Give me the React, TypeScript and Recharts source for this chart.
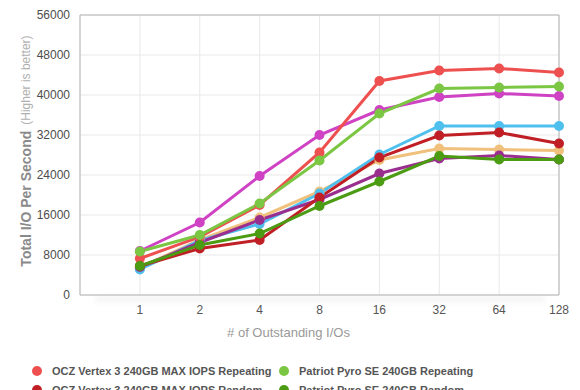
import React from 'react';
import { LineChart, Line, XAxis, YAxis, CartesianGrid, ReferenceArea, Label } from 'recharts';

const categories = ['1', '2', '4', '8', '16', '32', '64', '128'];
const yTicks = [0, 8000, 16000, 24000, 32000, 40000, 48000, 56000];

const oczRepeating = [7300, 11600, 18000, 28500, 42800, 44900, 45300, 44500];
const oczRandom = [5800, 9300, 11000, 19500, 27500, 31900, 32500, 30300];
const pyroRepeating = [8700, 12000, 18300, 26900, 36300, 41300, 41500, 41700];
const pyroRandom = [5800, 10000, 12300, 17800, 22700, 27800, 27100, 27100];
const forceRepeating = [8800, 14500, 23800, 32000, 37000, 39600, 40300, 39800];
const forceRandom = [5600, 10500, 15000, 19100, 24300, 27300, 27900, 27100];
const intelRepeating = [5100, 10900, 14200, 20300, 28100, 33800, 33800, 33800];
const intelRandom = [5500, 11000, 15500, 20700, 27000, 29300, 29100, 28900];

// legend order (two columns, row by row)
const series = [
  { key: 'oczRep', name: 'OCZ Vertex 3 240GB MAX IOPS Repeating', color: '#ee5050', values: oczRepeating },
  { key: 'pyroRep', name: 'Patriot Pyro SE 240GB Repeating', color: '#7bc643', values: pyroRepeating },
  { key: 'oczRand', name: 'OCZ Vertex 3 240GB MAX IOPS Random', color: '#c01f26', values: oczRandom },
  { key: 'pyroRand', name: 'Patriot Pyro SE 240GB Random', color: '#4b9c12', values: pyroRandom },
  { key: 'forceRep', name: 'Corsair Force GT 240GB Repeating', color: '#cf42c4', values: forceRepeating },
  { key: 'intelRep', name: 'Intel 520 240GB Repeating', color: '#4fc0ee', values: intelRepeating },
  { key: 'forceRand', name: 'Corsair Force GT 240GB Random', color: '#9a2e8f', values: forceRandom },
  { key: 'intelRand', name: 'Intel 520 240GB Random', color: '#f0c17c', values: intelRandom },
];

// draw order (later = on top)
const drawOrder = ['intelRand', 'intelRep', 'forceRep', 'forceRand', 'oczRep', 'oczRand', 'pyroRep', 'pyroRand'];

const data = categories.map((c, i) => {
  const row: Record<string, number> = { idx: i + 1 };
  series.forEach((s) => (row[s.key] = s.values[i]));
  return row;
});

const font = '"Liberation Sans", Arial, sans-serif';

const YLabel = () => (
  <text
    x={26}
    y={151}
    transform="rotate(-90, 26, 151)"
    textAnchor="middle"
    dominantBaseline="central"
    fontFamily={font}
  >
    <tspan fontSize={14} fontWeight="bold" fill="#8a8a8a">Total I/O Per Second</tspan>
    <tspan fontSize={12} fill="#b0b0b0" dx={6}>(Higher is better)</tspan>
  </text>
);

export default function App() {
  return (
    <div style={{ position: 'absolute', left: 0, top: 0, width: 580, height: 390, overflow: 'hidden', background: '#fff', fontFamily: font }}>
      <div
        style={{
          position: 'absolute',
          left: 95,
          top: 296,
          width: 450,
          height: 10,
          background: 'linear-gradient(to bottom, rgba(0,0,0,0.05), rgba(0,0,0,0))',
          filter: 'blur(2px)',
        }}
      />
      <LineChart width={580} height={345} data={data} margin={{ top: 15, right: 21, bottom: 5, left: 0 }} style={{ position: 'absolute', left: 0, top: 0 }}>
        <CartesianGrid stroke="#e8e8e8" strokeWidth={1} />
        <XAxis
          type="number"
          dataKey="idx"
          domain={[0, 8]}
          ticks={[1, 2, 3, 4, 5, 6, 7, 8]}
          tickFormatter={(v: number) => categories[v - 1] ?? ''}
          axisLine={false}
          tickLine={false}
          tickSize={0}
          tickMargin={10}
          height={45}
          tick={{ fill: '#555', fontSize: 12, fontFamily: font }}
          interval={0}
        >
          <Label value="# of Outstanding I/Os" position="insideBottom" offset={3} dx={-31} fill="#999" fontSize={13} fontFamily={font} />
        </XAxis>
        <YAxis
          domain={[0, 56000]}
          ticks={yTicks}
          width={80}
          axisLine={false}
          tickLine={false}
          tickSize={0}
          tickMargin={10}
          tick={{ fill: '#4d4d4d', fontSize: 12, fontFamily: font }}
        >
          <Label content={YLabel} />
        </YAxis>
        <ReferenceArea x1={0} x2={8} y1={0} y2={56000} fill="none" stroke="#b5b5b5" strokeWidth={1} ifOverflow="visible" />
        {drawOrder.map((k) => {
          const s = series.find((x) => x.key === k)!;
          return (
            <Line
              key={s.key}
              dataKey={s.key}
              name={s.name}
              stroke={s.color}
              strokeWidth={3}
              dot={{ r: 5, fill: s.color, stroke: 'none' }}
              activeDot={false}
              isAnimationActive={false}
            />
          );
        })}
      </LineChart>
      <div
        style={{
          position: 'absolute',
          left: 32,
          top: 363,
          display: 'grid',
          gridTemplateColumns: '247px 247px',
          rowGap: 3,
        }}
      >
        {series.map((s) => (
          <div key={s.key} style={{ display: 'flex', alignItems: 'center', height: 16 }}>
            <span style={{ width: 10, height: 10, borderRadius: 5, background: s.color, marginRight: 10 }} />
            <span style={{ fontSize: 11, fontWeight: 'bold', color: '#555', whiteSpace: 'nowrap' }}>{s.name}</span>
          </div>
        ))}
      </div>
    </div>
  );
}
